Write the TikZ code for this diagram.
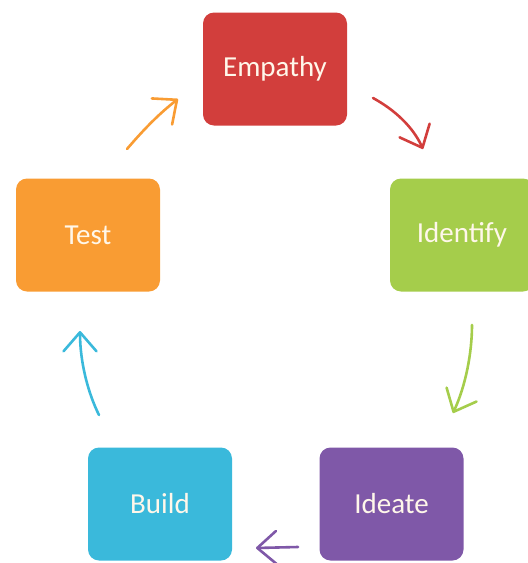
\documentclass[tikz,border=0pt]{standalone}
\usepackage{fontspec}
\setmainfont{Carlito}
\usetikzlibrary{arrows.meta}
\definecolor{cred}{HTML}{D23E3C}
\definecolor{cgreen}{HTML}{A5CD4B}
\definecolor{cpurple}{HTML}{7F58A8}
\definecolor{cblue}{HTML}{3AB9DB}
\definecolor{corange}{HTML}{F99C33}
\definecolor{ctext}{HTML}{FFF7EA}
\tikzset{
  stage/.style={rectangle, rounded corners=11pt, minimum width=144pt, minimum height=113pt,
    inner sep=0pt, text=ctext, font=\fontsize{29}{34}\selectfont},
  flow/.style={line width=2.6pt, line cap=round,
    -{Straight Barb[length=19pt,width=33pt,line width=2.6pt,round]}}
}
\begin{document}
\begin{tikzpicture}[x=1pt,y=-1pt]
\useasboundingbox (0,0) rectangle (528,563);
\clip (0,0) rectangle (528,563);
\node[stage, fill=cred] (empathy) at (275,69) {Empathy};
\node[stage, fill=cgreen] (identify) at (462,235) {Identify};
\node[stage, fill=cpurple] (ideate) at (391.5,504) {Ideate};
\node[stage, fill=cblue] (build) at (160,504) {Build};
\node[stage, fill=corange] (test) at (88,235) {Test};
% connector ends
\coordinate (o1) at (127,149);
\coordinate (o2) at (178,99);
\coordinate (r1) at (373,98);
\coordinate (r2) at (423,149);
\coordinate (g1) at (472,325);
\coordinate (g2) at (453,413);
\coordinate (p1) at (298,547);
\coordinate (p2) at (256,548);
\coordinate (b1) at (99,415);
\coordinate (b2) at (80,331);
\draw[flow, corange] (o1) .. controls (145,128) and (160,113) .. (o2);
\draw[flow, cred] (r1) .. controls (395,110) and (413,127) .. (r2);
\draw[flow, cgreen] (g1) .. controls (472,352) and (466,385) .. (g2);
\draw[flow, cpurple] (p1) -- (p2);
\draw[flow, cblue] (b1) .. controls (88,393) and (80,362) .. (b2);
\end{tikzpicture}
\end{document}
